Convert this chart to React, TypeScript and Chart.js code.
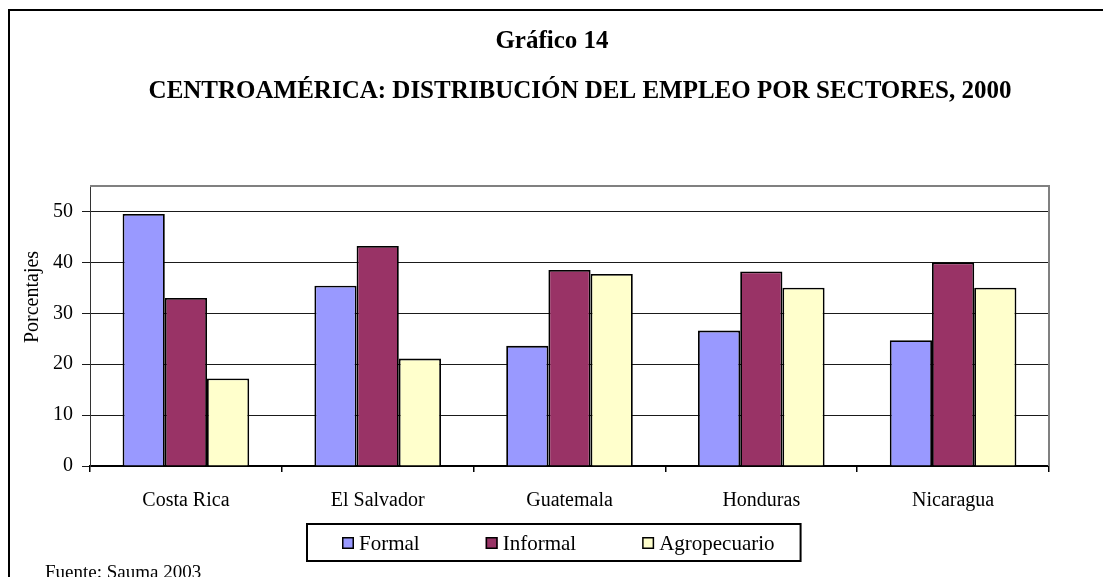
import { useEffect, useRef } from 'react';
import { Chart, registerables } from 'chart.js';

Chart.register(...registerables);

const categories = ['Costa Rica', 'El Salvador', 'Guatemala', 'Honduras', 'Nicaragua'];
const formal = [49.5, 35.4, 23.6, 26.6, 24.7];
const informal = [33.0, 43.2, 38.5, 38.2, 40.0];
const agropecuario = [17.2, 21.1, 37.7, 35.0, 35.0];
const seriesNames = ['Formal', 'Informal', 'Agropecuario'];
const seriesColors = ['#9999FF', '#993366', '#FFFFCC'];
const yTicks = [0, 10, 20, 30, 40, 50];
const chartTitle = 'Gráfico 14';
const chartSubtitle = 'CENTROAMÉRICA: DISTRIBUCIÓN DEL EMPLEO POR SECTORES, 2000';
const yAxisTitle = 'Porcentajes';
const sourceNote = 'Fuente: Sauma 2003';

const SERIF = '"Liberation Serif", "Times New Roman", serif';

const decorPlugin = {
  id: 'decor',
  beforeDatasetsDraw(chart: any) {
    const { ctx, chartArea: a } = chart;
    ctx.save();
    ctx.strokeStyle = '#808080';
    ctx.lineWidth = 2;
    ctx.beginPath();
    ctx.moveTo(a.left, a.top);
    ctx.lineTo(a.right, a.top);
    ctx.lineTo(a.right, a.bottom);
    ctx.stroke();
    ctx.restore();
  },
  afterDraw(chart: any) {
    const { ctx } = chart;
    ctx.save();
    // outer frame
    ctx.fillStyle = '#000';
    ctx.fillRect(8, 9, 2, 577);
    ctx.fillRect(8, 9, 1095, 2);
    // titles
    ctx.textAlign = 'center';
    ctx.textBaseline = 'middle';
    ctx.font = `bold 25px ${SERIF}`;
    ctx.fillText(chartTitle, 552, 42);
    ctx.fillText(chartSubtitle, 580, 92);
    // y axis title
    ctx.save();
    ctx.font = `20px ${SERIF}`;
    ctx.translate(33, 297);
    ctx.rotate(-Math.PI / 2);
    ctx.fillText(yAxisTitle, 0, 0);
    ctx.restore();

    // legend (built from the datasets)
    const ds = chart.data.datasets;
    ctx.font = `21px ${SERIF}`;
    const sw = 12;
    const gapText = 5;
    const spacing = 66;
    const widths = ds.map((d: any) => sw + gapText + ctx.measureText(d.label).width);
    const total = widths.reduce((s: number, w: number) => s + w, 0) + spacing * (ds.length - 1);
    const startX = 342;
    const cy = 543;
    ctx.strokeStyle = '#000';
    ctx.lineWidth = 2;
    ctx.strokeRect(startX - 35, 524, total + 35 + 26, 37);
    let x = startX;
    ds.forEach((d: any, i: number) => {
      ctx.fillStyle = d.backgroundColor;
      ctx.fillRect(x, cy - sw / 2, sw, sw);
      ctx.lineWidth = 1.5;
      ctx.strokeStyle = '#000';
      ctx.strokeRect(x + 0.75, cy - sw / 2 + 0.75, sw - 1.5, sw - 1.5);
      ctx.fillStyle = '#000';
      ctx.textAlign = 'left';
      ctx.textBaseline = 'middle';
      ctx.fillText(d.label, x + sw + gapText, cy + 1);
      x += widths[i] + spacing;
    });

    // source note (clipped at bottom)
    ctx.textAlign = 'left';
    ctx.textBaseline = 'alphabetic';
    ctx.font = `19px ${SERIF}`;
    ctx.fillStyle = '#000';
    ctx.fillText(sourceNote, 45, 578);
    ctx.restore();
  },
};

export default function App() {
  const ref = useRef<HTMLCanvasElement>(null);
  useEffect(() => {
    const seriesData = [formal, informal, agropecuario];
    const chart = new Chart(ref.current as HTMLCanvasElement, {
      type: 'bar',
      data: {
        labels: categories,
        datasets: seriesNames.map((name, i) => ({
          label: name,
          data: seriesData[i],
          backgroundColor: seriesColors[i],
          borderColor: '#000',
          borderWidth: 1.8,
        })),
      },
      options: {
        animation: false,
        responsive: false,
        layout: { padding: { top: 186, left: 10, right: 54, bottom: 51 } },
        datasets: { bar: { categoryPercentage: 0.66, barPercentage: 1 } },
        plugins: {
          legend: { display: false },
          title: { display: false },
          tooltip: { enabled: false },
        },
        scales: {
          x: {
            grid: {
              display: true,
              drawOnChartArea: false,
              drawTicks: true,
              tickLength: 6,
              color: '#000',
              lineWidth: 1.5,
              offset: true,
            },
            border: { display: true, color: '#000', width: 2 },
            ticks: {
              font: { family: SERIF, size: 20 },
              color: '#000',
              padding: 17,
              maxRotation: 0,
              autoSkip: false,
            },
            afterFit: (s: any) => {
              s.height = 60;
            },
          },
          y: {
            min: 0,
            max: 55,
            bounds: 'data',
            afterBuildTicks: (s: any) => {
              s.ticks = yTicks.map((v) => ({ value: v }));
            },
            grid: { color: '#1a1a1a', lineWidth: 1, tickLength: 8, drawTicks: true },
            border: { display: true, color: '#333', width: 1 },
            ticks: {
              font: { family: SERIF, size: 20 },
              color: '#000',
              padding: 9,
            },
            afterFit: (s: any) => {
              s.width = 80;
            },
          },
        },
      },
      plugins: [decorPlugin],
    } as any);
    return () => chart.destroy();
  }, []);
  return (
    <div style={{ position: 'absolute', left: 0, top: 0, width: 1103, height: 577, background: '#fff' }}>
      <canvas ref={ref} width={1103} height={577} style={{ display: 'block', width: 1103, height: 577 }} />
    </div>
  );
}
